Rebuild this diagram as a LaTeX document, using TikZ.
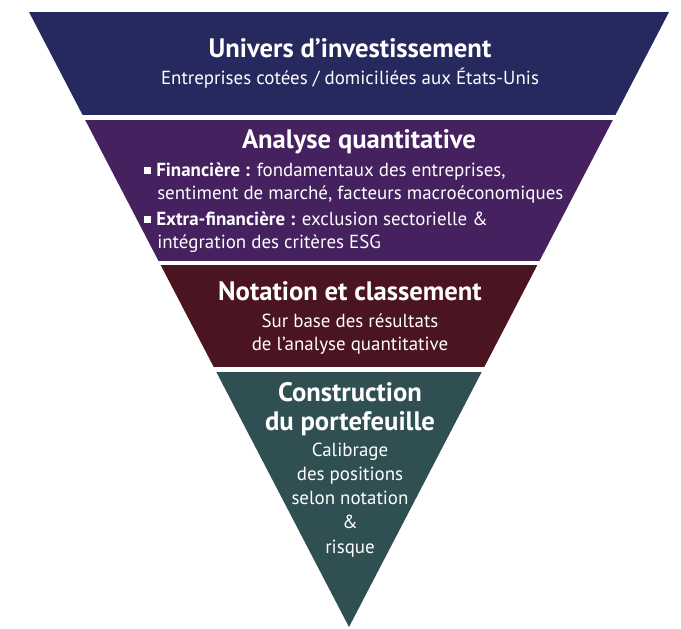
\documentclass[tikz,border=0pt]{standalone}
\usepackage{fontspec}
\setmainfont{PT Sans}
\definecolor{cA}{RGB}{37,41,94}
\definecolor{cB}{RGB}{70,33,96}
\definecolor{cC}{RGB}{74,20,32}
\definecolor{cD}{RGB}{47,79,82}
\tikzset{
  ttl/.style={text=white,font=\fontsize{20}{23}\selectfont\bfseries,anchor=base,inner sep=0pt},
  sub/.style={text=white,font=\fontsize{14.2}{17}\selectfont,anchor=base,inner sep=0pt},
  subl/.style={sub,anchor=base west}
}
\newcommand{\bsq}{\raisebox{1.5pt}{\rule{5pt}{5pt}}\hspace{4pt}}
\begin{document}
\begin{tikzpicture}[x=0.75pt,y=-0.75pt]
\useasboundingbox (0,0) rectangle (681,628);
\begin{scope}
\clip (29,12) -- (669,12) -- (349,627) -- cycle;
\fill[cA] (0,12) rectangle (681,115);
\fill[cB] (0,120) rectangle (681,261);
\fill[cC] (0,265) rectangle (681,367);
\fill[cD] (0,372) rectangle (681,640);
\end{scope}
% band 1
\node[ttl] (t1) at (350,57) {Univers d’investissement};
\node[sub] (s1) at (350,84) {Entreprises cotées / domiciliées aux États-Unis};
% band 2
\node[ttl] (t2) at (359,148) {Analyse quantitative};
\node[subl] (b1) at (144,176) {\bsq\textbf{Financière :} fondamentaux des entreprises,};
\node[subl] (b2) at (157,199) {sentiment de marché, facteurs macroéconomiques};
\node[subl] (b3) at (144,225) {\bsq\textbf{Extra-financière :} exclusion sectorielle \&};
\node[subl] (b4) at (157,248) {intégration des critères ESG};
% band 3
\node[ttl] (t3) at (350,300) {Notation et classement};
\node[sub] (s3a) at (350,327) {Sur base des résultats};
\node[sub] (s3b) at (350,350) {de l’analyse quantitative};
% band 4
\node[ttl] (t4a) at (350,401) {Construction};
\node[ttl] (t4b) at (350,430) {du portefeuille};
\node[sub] (s4a) at (350,456) {Calibrage};
\node[sub] (s4b) at (350,480) {des positions};
\node[sub] (s4c) at (350,504) {selon notation};
\node[sub] (s4d) at (350,528) {\&};
\node[sub] (s4e) at (350,553) {risque};
\end{tikzpicture}
\end{document}
